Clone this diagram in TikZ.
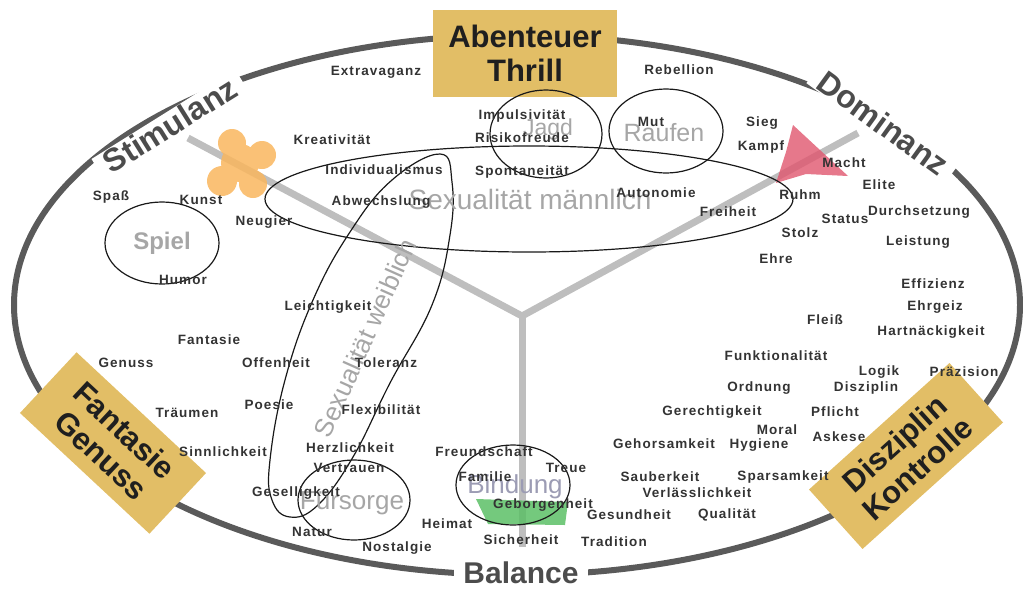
\documentclass[tikz,border=0pt]{standalone}
\usepackage{fontspec}
\setmainfont{Liberation Sans}
\newfontfamily\wordfont[LetterSpace=8]{Liberation Sans}
\definecolor{ringgray}{HTML}{5A5A5A}
\definecolor{axisgray}{HTML}{BEBEBE}
\definecolor{wordgray}{HTML}{333333}
\definecolor{zonegray}{HTML}{A6A6A6}
\definecolor{bindgray}{HTML}{9C9CB4}
\definecolor{boxgold}{HTML}{E2BE66}
\definecolor{petal}{HTML}{F9B65E}
\definecolor{dartred}{HTML}{E0566E}
\definecolor{leafgreen}{HTML}{5CBF66}
\tikzset{
  word/.style={font=\wordfont\bfseries\fontsize{13.5}{14}\selectfont, text=wordgray, inner sep=0pt},
  zone/.style={font=\fontsize{26}{26}\selectfont, text=zonegray, inner sep=0pt},
  pole/.style={font=\bfseries\fontsize{32}{32}\selectfont, text=ringgray!85!black, fill=white, inner xsep=9pt, inner ysep=1pt},
  goldbox/.style={fill=boxgold, font=\bfseries\fontsize{31}{34}\selectfont, align=center, text=black!88, inner sep=0pt},
  loop/.style={draw=black!90, line width=1.2pt},
  axis/.style={draw=axisgray, line width=7pt},
}
\begin{document}
\begin{tikzpicture}[x=1pt,y=-1pt]
\useasboundingbox (0,0) rectangle (1023,590);

% three axes meeting at the hub
\coordinate (hub) at (522,316);
\coordinate (axS) at (188,138);
\coordinate (axD) at (858,133);
\coordinate (axB) at (522,547);
\draw[axis] (hub) -- (axS);
\draw[axis] (hub) -- (axD);
\draw[axis] (hub) -- (axB);

% symbols on the axes
\fill[petal, opacity=0.85]
  (240,163) circle (19pt) (232,143) circle (14pt) (262,155) circle (14pt)
  (222,181) circle (15pt) (253,184) circle (14pt);
\fill[dartred, opacity=0.8] (793,125) -- (848,176) -- (806,174) -- (776,183) -- (786,152) -- cycle;
\fill[leafgreen, opacity=0.85] (476,499) -- (568,502) -- (565,525) -- (488,524) -- cycle;

% outer ring
\draw[ringgray, line width=6pt] (517,305) ellipse [x radius=503pt, y radius=270pt];

% corner boxes
\node[goldbox, minimum width=184pt, minimum height=87pt] (abenteuer) at (525,53) {Abenteuer\\Thrill};
\node[goldbox, minimum width=177pt, minimum height=83pt, rotate=-43] (fantasie) at (113,443) {Fantasie\\Genuss};
\node[goldbox, minimum width=189pt, minimum height=80pt, rotate=42] (disziplin) at (906,456) {Disziplin\\Kontrolle};

% motive zones
\draw[loop] (162,243) ellipse [x radius=57pt, y radius=41pt];
\draw[loop] (546,134) ellipse [x radius=56pt, y radius=44pt];
\draw[loop] (666,131) ellipse [x radius=57pt, y radius=42pt];
\draw[loop] (529,199) ellipse [x radius=264pt, y radius=53pt];
\draw[loop] (354,500) ellipse [x radius=56pt, y radius=40pt];
\draw[loop] (513,485) ellipse [x radius=57pt, y radius=40pt];
\draw[loop] plot[smooth cycle, tension=0.7] coordinates {
  (440,154) (452,182) (450,235) (432,305) (390,383) (353,457) (318,505)
  (290,517) (272,500) (270,460) (285,380) (313,300) (350,232) (392,180)};

\node[zone, font=\bfseries\fontsize{24}{24}\selectfont] (spiel) at (162,243) {Spiel};
\node[zone, font=\fontsize{23}{23}\selectfont] (jagd) at (548,130) {Jagd};
\node[zone, font=\fontsize{25}{25}\selectfont] (raufen) at (664,133) {Raufen};
\node[zone, font=\fontsize{28}{28}\selectfont] (maennlich) at (530,199) {Sexualität männlich};
\node[zone, rotate=66] (weiblich) at (365,338) {Sexualität weiblich};
\node[zone] (fuersorge) at (352,503) {Fürsorge};
\node[zone, text=bindgray] (bindung) at (515,487) {Bindung};

% values
\node[word] (w01) at (376,72) {Extravaganz};
\node[word] (w02) at (679,70) {Rebellion};
\node[word] (w03) at (522,116) {Impulsivität};
\node[word] (w04) at (522,138) {Risikofreude};
\node[word] (w05) at (522,172) {Spontaneität};
\node[word] (w06) at (651,122) {Mut};
\node[word] (w07) at (332,140) {Kreativität};
\node[word] (w08) at (384,170) {Individualismus};
\node[word] (w09) at (381,202) {Abwechslung};
\node[word] (w10) at (264,222) {Neugier};
\node[word] (w11) at (111,197) {Spaß};
\node[word] (w12) at (201,200) {Kunst};
\node[word] (w13) at (183,280) {Humor};
\node[word] (w14) at (656,193) {Autonomie};
\node[word] (w15) at (728,212) {Freiheit};
\node[word] (w16) at (762,123) {Sieg};
\node[word] (w17) at (761,147) {Kampf};
\node[word] (w18) at (844,163) {Macht};
\node[word] (w19) at (879,185) {Elite};
\node[word] (w20) at (800,195) {Ruhm};
\node[word] (w21) at (845,219) {Status};
\node[word] (w22) at (919,212) {Durchsetzung};
\node[word] (w23) at (800,233) {Stolz};
\node[word] (w24) at (918,242) {Leistung};
\node[word] (w25) at (776,259) {Ehre};
\node[word] (w26) at (933,284) {Effizienz};
\node[word] (w27) at (935,307) {Ehrgeiz};
\node[word] (w28) at (825,320) {Fleiß};
\node[word] (w29) at (931,332) {Hartnäckigkeit};
\node[word] (w30) at (776,356) {Funktionalität};
\node[word] (w31) at (879,372) {Logik};
\node[word] (w32) at (964,372) {Präzision};
\node[word] (w33) at (759,388) {Ordnung};
\node[word] (w34) at (866,388) {Disziplin};
\node[word] (w35) at (712,412) {Gerechtigkeit};
\node[word] (w36) at (835,412) {Pflicht};
\node[word] (w37) at (777,430) {Moral};
\node[word] (w38) at (839,437) {Askese};
\node[word] (w39) at (664,444) {Gehorsamkeit};
\node[word] (w40) at (759,445) {Hygiene};
\node[word] (w41) at (660,477) {Sauberkeit};
\node[word] (w42) at (783,477) {Sparsamkeit};
\node[word] (w43) at (697,493) {Verlässlichkeit};
\node[word] (w44) at (629,515) {Gesundheit};
\node[word] (w45) at (727,515) {Qualität};
\node[word] (w46) at (614,542) {Tradition};
\node[word] (w47) at (521,540) {Sicherheit};
\node[word] (w48) at (543,505) {Geborgenheit};
\node[word] (w49) at (566,468) {Treue};
\node[word] (w50) at (485,477) {Familie};
\node[word] (w51) at (484,452) {Freundschaft};
\node[word] (w52) at (447,524) {Heimat};
\node[word] (w53) at (397,548) {Nostalgie};
\node[word] (w54) at (312,532) {Natur};
\node[word] (w55) at (296,493) {Geselligkeit};
\node[word] (w56) at (350,448) {Herzlichkeit};
\node[word] (w57) at (349,468) {Vertrauen};
\node[word] (w58) at (381,410) {Flexibilität};
\node[word] (w59) at (386,363) {Toleranz};
\node[word] (w60) at (269,405) {Poesie};
\node[word] (w61) at (276,363) {Offenheit};
\node[word] (w62) at (328,307) {Leichtigkeit};
\node[word] (w63) at (209,340) {Fantasie};
\node[word] (w64) at (126,363) {Genuss};
\node[word] (w65) at (187,413) {Träumen};
\node[word] (w66) at (223,452) {Sinnlichkeit};

% poles on the ring
\node[pole, rotate=32] (stimulanz) at (170,125) {Stimulanz};
\node[pole, rotate=-36] (dominanz) at (883,123) {Dominanz};
\node[pole, font=\bfseries\fontsize{30}{30}\selectfont] (balance) at (521,573) {Balance};
\end{tikzpicture}
\end{document}
